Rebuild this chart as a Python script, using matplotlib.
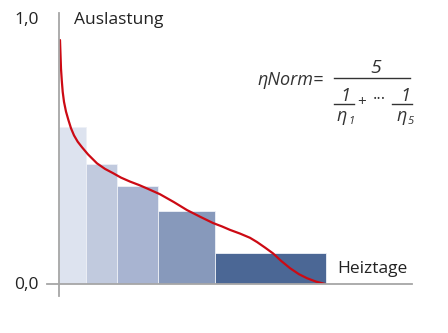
import matplotlib
matplotlib.use("Agg")
import matplotlib.pyplot as plt
from matplotlib.lines import Line2D

plt.rcParams['font.family'] = ['Open Sans', 'DejaVu Sans']

# Bars: boundaries along the heating-day axis and load (Auslastung)
bar_edges = [0, 27, 58, 99, 156, 267]
bar_heights = [0.595, 0.455, 0.371, 0.277, 0.117]
bar_colors = ["#dde3ef", "#c1cade", "#a8b4d1", "#8799bb", "#4b6795"]

# Load duration curve
curve_x = [1, 1.5, 2, 2.8, 3.7, 5, 7, 9.5, 12, 15, 18.7, 23, 29, 38, 46, 54,
           62, 71, 80, 88, 101, 115, 128, 141, 154, 163, 171, 181, 191, 198,
           206, 214, 222, 231, 240, 248, 257, 266]
curve_y = [0.924, 0.87, 0.816, 0.77, 0.728, 0.69, 0.653, 0.62, 0.59, 0.563,
           0.539, 0.518, 0.491, 0.457, 0.436, 0.42, 0.403, 0.388, 0.375, 0.362,
           0.34, 0.31, 0.28, 0.255, 0.231, 0.218, 0.205, 0.191, 0.175, 0.159,
           0.138, 0.116, 0.088, 0.06, 0.037, 0.022, 0.009, 0.0]

W, H = 448, 333
fig = plt.figure(figsize=(W / 100, H / 100), dpi=100)

# axes placed in pixel terms: origin at (59, 284), y=1 at 20
ax = fig.add_axes([59 / W, (H - 284) / H, 353 / W, 264 / H])
ax.set_xlim(0, 353)
ax.set_ylim(0, 1)
ax.axis("off")

widths = [b - a for a, b in zip(bar_edges[:-1], bar_edges[1:])]
ax.bar(bar_edges[:-1], bar_heights, width=widths, align="edge",
       color=bar_colors, edgecolor="#eef1f7", linewidth=0.6, zorder=2)
ax.plot(curve_x, curve_y, color="#cc0a14", lw=1.6, zorder=3,
        solid_capstyle="round", solid_joinstyle="round")


def px(x, y):
    return x / W, 1 - y / H


axis_col = "#a6a6a6"
fig.add_artist(Line2D([59 / W, 59 / W], [1 - 13 / H, 1 - 296 / H],
                      color=axis_col, lw=1.3))
fig.add_artist(Line2D([47 / W, 412 / W], [1 - 284 / H, 1 - 284 / H],
                      color=axis_col, lw=1.3))

txt = "#222222"
fig.text(*px(39, 20), "1,0", ha="right", va="center", fontsize=12.5, color=txt)
fig.text(*px(39, 285), "0,0", ha="right", va="center", fontsize=12.5, color=txt)
fig.text(*px(74, 20), "Auslastung", ha="left", va="center", fontsize=12.5, color=txt)
fig.text(*px(337, 269), "Heiztage", ha="left", va="center", fontsize=12.5, color=txt)

# formula
ft = "#333333"
fig.text(*px(324, 80), "ηNorm=", ha="right", va="center", fontsize=13,
         style="italic", color=ft)
fig.text(*px(376, 68), "5", ha="center", va="center", fontsize=14,
         style="italic", color=ft)
fig.add_artist(Line2D([334 / W, 410 / W], [1 - 78 / H, 1 - 78 / H], color=ft, lw=1.0))
for cx, l0, l1, sub in [(345, 334, 354, "1"), (405, 392, 412, "5")]:
    fig.text(*px(cx, 96), "1", ha="center", va="center", fontsize=13,
             style="italic", color=ft)
    fig.add_artist(Line2D([l0 / W, l1 / W], [1 - 104 / H, 1 - 104 / H],
                          color=ft, lw=1.0))
    fig.text(*px(cx - 3, 116), "η", ha="center", va="center", fontsize=13,
             style="italic", color=ft)
    fig.text(*px(cx + 6, 121), sub, ha="center", va="center", fontsize=8,
             style="italic", color=ft)
fig.text(*px(362, 103), "+", ha="center", va="center", fontsize=11, color=ft)
fig.text(*px(379, 100), "···", ha="center", va="center", fontsize=12, color=ft)

fig.savefig("out.png", dpi=100)
